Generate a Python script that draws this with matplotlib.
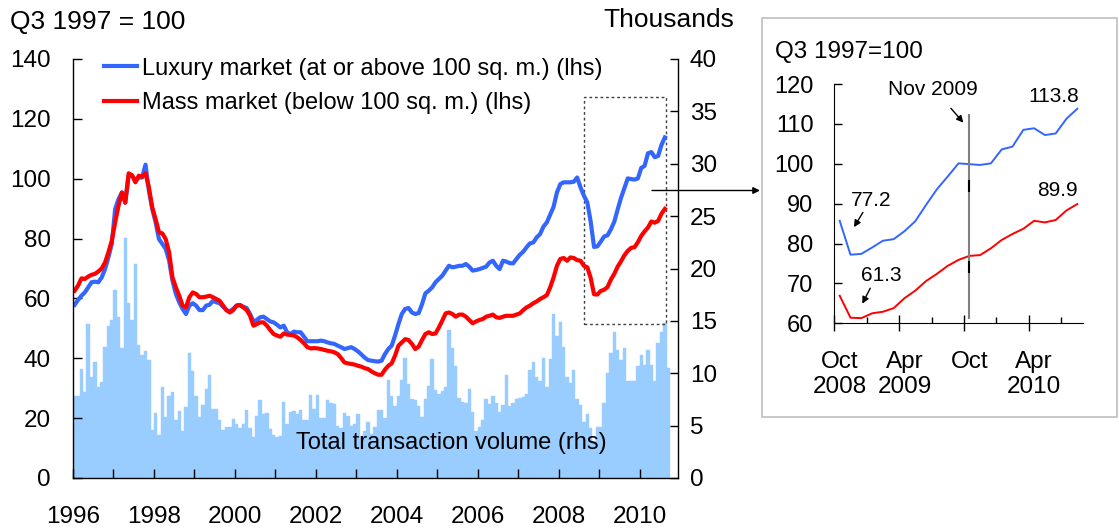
import numpy as np
import matplotlib
matplotlib.use("Agg")
import matplotlib.pyplot as plt
from matplotlib.patches import Rectangle

plt.rcParams['font.family'] = ['Liberation Sans', 'DejaVu Sans']

# ---------------- data (monthly, Jan 1996 onwards) ----------------
luxury = [
    57.9, 59.5, 60.9, 62.0, 63.7, 65.4, 65.6, 65.4, 67.0, 69.8, 73.7, 78.2,      # 1996
    89.9, 93.2, 95.4, 92.0, 101.0, 101.0, 99.3, 100.4, 100.4, 104.7, 96.0, 89.9, # 1997
    85.4, 79.8, 78.2, 76.5, 72.6, 65.9, 61.5, 58.7, 56.5, 54.8, 57.6, 58.4,      # 1998
    57.6, 56.1, 56.1, 57.6, 57.9, 59.2, 58.7, 58.4, 57.2, 56.1, 55.7, 56.5,      # 1999
    57.6, 57.8, 57.2, 56.8, 54.8, 52.3, 52.8, 53.7, 53.9, 53.1, 52.3, 52.0,      # 2000
    51.2, 50.3, 50.9, 48.7, 48.1, 48.9, 48.7, 48.7, 47.2, 45.7, 45.7, 45.7,      # 2001
    45.7, 45.9, 45.7, 45.3, 45.0, 44.8, 44.2, 43.7, 43.1, 43.4, 43.7, 43.1,      # 2002
    42.3, 41.3, 40.2, 39.4, 39.2, 39.0, 38.9, 39.2, 41.4, 43.1, 44.2, 47.6,      # 2003
    51.4, 54.8, 56.5, 56.8, 55.3, 54.8, 55.1, 58.1, 61.7, 62.6, 63.7, 65.4,      # 2004
    66.5, 67.6, 69.3, 70.9, 70.4, 70.6, 70.9, 70.9, 71.5, 70.6, 69.3, 69.5,      # 2005
    69.8, 70.2, 70.6, 72.0, 72.6, 70.9, 69.8, 72.6, 72.3, 71.8, 71.7, 73.2,      # 2006
    74.6, 75.6, 77.1, 78.4, 78.7, 80.4, 81.5, 84.0, 85.4, 88.0, 90.6, 95.4,      # 2007
    98.2, 98.8, 98.8, 98.8, 99.0, 100.4, 97.1, 94.3, 92.1, 85.7, 77.2, 77.4,     # 2008
    79.0, 80.7, 81.1, 83.1, 85.6, 89.7, 93.6, 96.8, 100.1, 99.9, 99.7, 100.1,    # 2009
    103.6, 104.3, 108.5, 108.9, 107.2, 107.6, 111.3, 113.8,                      # 2010
]
mass = [
    62.6, 64.3, 66.7, 66.5, 67.3, 67.9, 68.2, 69.0, 70.0, 72.0, 75.4, 79.3,      # 1996
    85.4, 91.0, 95.4, 92.0, 101.8, 101.2, 98.8, 101.0, 100.7, 101.8, 97.1, 90.4, # 1997
    86.5, 82.1, 81.7, 79.8, 75.4, 67.0, 63.7, 60.9, 57.6, 57.0, 60.4, 62.0,      # 1998
    61.5, 60.4, 60.4, 60.6, 60.9, 60.4, 59.8, 59.2, 57.6, 56.1, 55.3, 56.1,      # 1999
    57.6, 57.8, 57.0, 56.1, 54.2, 50.9, 51.4, 52.0, 52.0, 50.9, 49.4, 48.1,      # 2000
    47.6, 47.2, 48.3, 47.9, 47.8, 47.6, 47.0, 46.1, 45.0, 43.7, 43.3, 43.4,      # 2001
    43.3, 43.1, 42.8, 42.5, 42.3, 42.0, 41.4, 40.1, 38.6, 38.3, 38.1, 37.9,      # 2002
    37.5, 37.2, 36.7, 36.4, 35.6, 35.0, 34.5, 34.5, 36.2, 37.5, 38.3, 40.9,      # 2003
    44.2, 45.3, 46.4, 46.1, 44.8, 43.1, 43.9, 46.1, 48.1, 48.7, 48.1, 48.3,      # 2004
    50.3, 52.6, 55.0, 55.3, 54.8, 53.9, 54.6, 54.6, 53.9, 52.8, 51.7, 52.3,      # 2005
    52.8, 53.1, 53.9, 54.2, 54.6, 53.7, 53.5, 53.9, 54.2, 54.2, 54.2, 54.6,      # 2006
    55.0, 56.1, 57.0, 57.6, 58.4, 59.0, 59.8, 60.4, 61.1, 63.7, 67.0, 70.9,      # 2007
    73.2, 73.5, 72.6, 73.7, 73.5, 72.8, 72.6, 70.9, 70.4, 66.9, 61.4, 61.3,      # 2008
    62.5, 62.9, 63.8, 66.3, 68.2, 70.6, 72.4, 74.4, 75.9, 76.9, 77.1, 78.8,      # 2009
    80.9, 82.4, 83.7, 85.7, 85.3, 85.9, 88.3, 89.9,                              # 2010
]
volume = [
    7.8, 7.8, 10.4, 8.2, 14.7, 9.6, 11.1, 8.7, 9.2, 12.5, 14.5, 15.1,            # 1996
    17.9, 15.4, 12.4, 22.9, 16.7, 15.1, 20.4, 12.7, 11.7, 12.1, 11.3, 4.6,       # 1997
    6.2, 4.1, 8.7, 5.8, 7.8, 8.2, 5.5, 6.4, 4.5, 6.8, 11.9, 10.2,                # 1998
    7.8, 5.8, 7.0, 8.5, 9.8, 6.6, 6.6, 5.5, 4.6, 4.9, 4.9, 5.6,                  # 1999
    5.2, 4.8, 5.2, 6.5, 4.8, 3.9, 5.9, 7.4, 6.1, 6.2, 4.7, 4.1,                  # 2000
    3.9, 4.0, 7.3, 5.2, 6.3, 6.4, 6.1, 6.5, 5.5, 5.5, 7.9, 6.6,                  # 2001
    7.9, 5.7, 5.7, 7.4, 7.2, 7.1, 5.0, 4.8, 6.2, 5.9, 5.0, 5.2,                  # 2002
    6.1, 4.0, 4.5, 5.3, 4.2, 4.9, 6.5, 6.5, 5.7, 9.4, 7.8, 6.9,                  # 2003
    7.8, 9.4, 11.5, 9.0, 7.5, 7.4, 6.9, 5.8, 7.5, 8.8, 11.4, 8.4,                # 2004
    8.0, 8.3, 8.7, 14.1, 12.4, 10.7, 7.6, 7.3, 7.2, 8.5, 6.3, 4.5,               # 2005
    4.9, 5.5, 7.5, 7.1, 7.8, 7.2, 6.3, 7.0, 9.8, 6.9, 7.2, 7.5,                  # 2006
    7.6, 7.7, 8.0, 10.3, 11.1, 9.6, 9.3, 11.5, 8.7, 11.4, 15.7, 13.6,            # 2007
    14.9, 12.5, 9.6, 9.1, 10.3, 7.5, 7.0, 5.3, 6.1, 4.8, 3.5, 4.9,               # 2008
    4.9, 7.2, 10.0, 11.9, 13.9, 12.2, 11.3, 12.4, 9.3, 9.3, 9.3, 10.7,           # 2009
    11.7, 10.8, 12.2, 10.8, 9.3, 12.9, 13.9, 14.8, 10.5,                         # 2010
]
start_year = 1996
inset_start = 153            # Oct 2008 (month index)
inset_labels = ['Oct\n2008', 'Apr\n2009', 'Oct', 'Apr\n2010']
inset_label_pos = [0, 6, 12, 18]
lux_label = 'Luxury market (at or above 100 sq. m.) (lhs)'
mass_label = 'Mass market (below 100 sq. m.) (lhs)'

BLUE = '#3366FF'
RED = '#FF0000'
BAR = '#99CCFF'

W, H = 1119, 531
fig = plt.figure(figsize=(W / 100, H / 100), dpi=100)


def fx(px):
    return px / W


def fy(py):
    return 1 - py / H


# ---------------- main chart ----------------
ax = fig.add_axes([fx(73), fy(478), (678 - 73) / W, (478 - 59) / H])
ax2 = ax.twinx()
ax.set_zorder(ax2.get_zorder() + 1)
ax.patch.set_visible(False)

t_l = start_year + (np.arange(len(luxury)) + 0.5) / 12
t_v = start_year + (np.arange(len(volume)) + 0.5) / 12

ax2.bar(t_v, volume, width=1 / 12, color=BAR, edgecolor=BAR, linewidth=0.3)
ax.plot(t_l, luxury, color=BLUE, lw=3, label=lux_label, solid_joinstyle='round')
ax.plot(t_l, mass, color=RED, lw=3, label=mass_label, solid_joinstyle='round')

ax.set_xlim(1996, 2010.95)
ax.set_ylim(0, 140)
ax2.set_ylim(0, 40)
ax.set_yticks(range(0, 141, 20))
ax2.set_yticks(range(0, 41, 5))
years = np.arange(1996, 2011)
ax.set_xticks(years)
ax.set_xticklabels([str(y) if y % 2 == 0 else '' for y in years])

for a in (ax, ax2):
    a.spines['top'].set_visible(False)
    for s in a.spines.values():
        s.set_linewidth(1)
ax.spines['right'].set_visible(False)
ax2.spines['left'].set_visible(False)
ax2.spines['bottom'].set_visible(False)

ax.tick_params(axis='both', direction='in', length=6.5, width=1, labelsize=17.5)
ax.tick_params(axis='y', pad=16)
ax.tick_params(axis='x', pad=20.5)
ax2.tick_params(axis='y', direction='in', length=5.5, width=1, labelsize=17.5, pad=8.5)

# dotted zoom box
ax.add_patch(Rectangle((2008.63, 51.5), 2010.656 - 2008.63, 127.3 - 51.5, fill=False,
                       edgecolor='#404040', lw=1, linestyle=(0, (2, 2)), clip_on=False))
ax.text(2001.51, 11.7, 'Total transaction volume (rhs)', fontsize=17, va='center', ha='left')

ax.legend(loc='upper left', bbox_to_anchor=(fx(104.3), fy(57.5)), bbox_transform=fig.transFigure,
          frameon=False, fontsize=17, handlelength=1.4, handletextpad=0.2,
          labelspacing=0.55, borderpad=0, borderaxespad=0)

fig.text(fx(10), fy(21.7), 'Q3 1997 = 100', fontsize=19, ha='left', va='center')
fig.text(fx(603), fy(20), 'Thousands', fontsize=19, ha='left', va='center')

# arrow to inset
ax.annotate('', xy=(fx(760), fy(190.5)), xytext=(fx(652), fy(190.5)),
            xycoords='figure fraction', textcoords='figure fraction',
            arrowprops=dict(arrowstyle='-|>', color='black', lw=1, mutation_scale=10,
                            shrinkA=0, shrinkB=0), annotation_clip=False)

# ---------------- inset ----------------
fig.add_artist(Rectangle((fx(762.3), fy(416.7)), fx(1117) - fx(762.3), fy(18.3) - fy(416.7),
                         transform=fig.transFigure, fill=False, edgecolor='#BFBFBF', lw=1.2))
fig.text(fx(775), fy(51.7), 'Q3 1997=100', fontsize=17.5, ha='left', va='center')

axi = fig.add_axes([fx(834.3), fy(323.3), (1082.7 - 834.3) / W, (323.3 - 84) / H])
lux_in = luxury[inset_start:]
mass_in = mass[inset_start:]
xi = np.arange(len(lux_in))
axi.plot(xi, lux_in, color=BLUE, lw=1.4)
axi.plot(xi, mass_in, color=RED, lw=1.4)
axi.set_xlim(-0.5, len(lux_in) - 0.5)
axi.set_ylim(60, 120)
axi.set_yticks(range(60, 121, 10))
axi.spines['top'].set_visible(False)
axi.spines['right'].set_visible(False)
axi.tick_params(axis='y', direction='in', length=5.5, width=1, labelsize=17, pad=15)
axi.set_xticks(inset_label_pos)
axi.set_xticklabels(inset_labels)
axi.tick_params(axis='x', length=0, labelsize=17.5, pad=20)
axi.set_xticks(np.arange(2.5, len(lux_in), 6), minor=True)
axi.tick_params(axis='x', which='minor', direction='in', length=4.5, width=1)
sec = axi.secondary_xaxis('bottom')
sec.set_xticks(np.arange(-0.5, len(lux_in), 6))
sec.tick_params(axis='x', direction='inout', length=11, width=1, labelbottom=False)
sec.spines['bottom'].set_visible(False)

# Nov 2009 marker
marker_x = 12
axi.vlines(marker_x, 61.1, 112.6, color='#808080', lw=1.5)
axi.vlines([marker_x, marker_x], [92.8, 72.7], [95.9, 75.5], color='black', lw=1.5)

arrow_kw = dict(arrowstyle='-|>', color='black', lw=1, mutation_scale=10, shrinkA=0, shrinkB=0)
axi.text(8.6, 118.5, 'Nov 2009', fontsize=15, ha='center', va='center')
axi.annotate('', xy=(11.45, 110.3), xytext=(10.3, 113.9), arrowprops=arrow_kw)
axi.text(2.92, 90.9, '77.2', fontsize=15, ha='center', va='center')
axi.annotate('', xy=(1.32, 84.1), xytext=(2.15, 87.8), arrowprops=arrow_kw)
axi.text(3.85, 71.9, '61.3', fontsize=15, ha='center', va='center')
axi.annotate('', xy=(2.09, 64.9), xytext=(2.83, 68.8), arrowprops=arrow_kw)
axi.text(19.8, 116.8, '113.8', fontsize=15, ha='center', va='center')
axi.text(20.2, 93.2, '89.9', fontsize=15, ha='center', va='center')

fig.savefig('out.png', dpi=100)
